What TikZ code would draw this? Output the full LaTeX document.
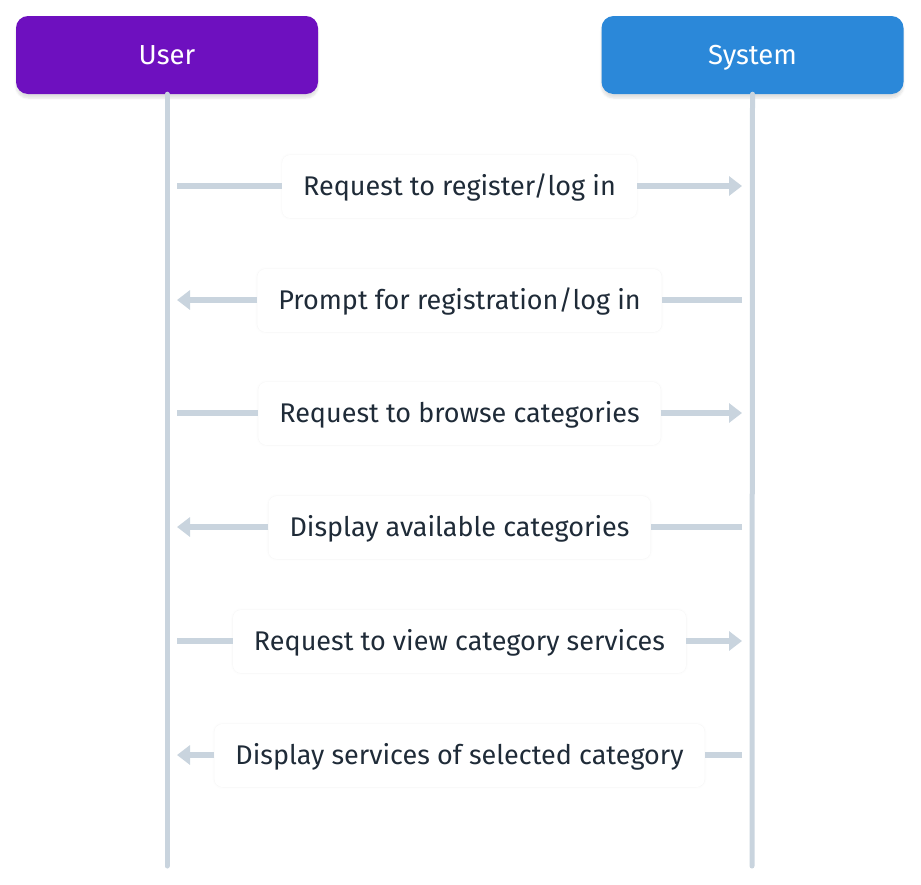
\documentclass[tikz,border=0pt]{standalone}
\usepackage{fontspec}
\setmainfont{Fira Sans}
\usepackage{xcolor}
\usetikzlibrary{arrows.meta,shadows.blur}

\definecolor{userpurple}{HTML}{6E10BF}
\definecolor{sysblue}{HTML}{2B88D9}
\definecolor{lifegray}{HTML}{C9D4DE}
\definecolor{msgtext}{HTML}{1F2B38}

\tikzset{
	actor/.style={rounded corners=12pt, minimum width=302pt, minimum height=78pt,
		text=white, font=\fontsize{27.5}{31}\selectfont, text height=19pt, text depth=0pt,
		blur shadow={shadow xshift=0pt, shadow yshift=-4pt, shadow blur steps=6, shadow opacity=12}},
	msg/.style={fill=white, rounded corners=8pt, minimum height=63pt, inner xsep=21pt,
		text=msgtext, font=\fontsize{27}{31}\selectfont, text height=18.6pt, text depth=0pt,
		blur shadow={shadow xshift=0pt, shadow yshift=0pt, shadow blur steps=6, shadow opacity=6}},
	lifeline/.style={draw=lifegray, line width=5pt, line cap=round},
	call/.style={draw=lifegray, line width=6pt, -{Triangle[length=13pt,width=19pt]}},
}

\begin{document}
\begin{tikzpicture}[x=1pt, y=-1pt]
		\useasboundingbox (0,0) rectangle (921,884);

		\node (user) [actor, fill=userpurple] at (167,  55) {User};
		\node (sys)  [actor, fill=sysblue]    at (752.5,55) {System};

		\coordinate (uend) at (167, 866);
		\coordinate (send) at (752, 866);

		% points on the lifelines
		\coordinate (u1) at (177, 186);
		\coordinate (s1) at (742, 186);
		\coordinate (u2) at (177, 300);
		\coordinate (s2) at (742, 300);
		\coordinate (u3) at (177, 413);
		\coordinate (s3) at (742, 413);
		\coordinate (u4) at (177, 527);
		\coordinate (s4) at (742, 527);
		\coordinate (u5) at (177, 641);
		\coordinate (s5) at (742, 641);
		\coordinate (u6) at (177, 755);
		\coordinate (s6) at (742, 755);

		\draw [lifeline] (user.south) -- (uend);
		\draw [lifeline] (sys.south |- user.south) -- (send);

		\node (m1) [msg] at (459.5, 186.5) {Request to register/log in};
		\node (m2) [msg] at (459.5, 300.5) {Prompt for registration/log in};
		\node (m3) [msg] at (459.5, 413.5) {Request to browse categories};
		\node (m4) [msg] at (459.5, 527.5) {Display available categories};
		\node (m5) [msg] at (459.5, 641.5) {Request to view category services};
		\node (m6) [msg] at (459.5, 755.5) {Display services of selected category};

		% user -> system
		\draw [lifeline, line width=6pt, line cap=butt] (u1) -- (u1 -| m1.west);
		\draw [call] (s1 -| m1.east) -- (s1);

		% system -> user
		\draw [lifeline, line width=6pt, line cap=butt] (s2) -- (s2 -| m2.east);
		\draw [call] (u2 -| m2.west) -- (u2);

		\draw [lifeline, line width=6pt, line cap=butt] (u3) -- (u3 -| m3.west);
		\draw [call] (s3 -| m3.east) -- (s3);

		\draw [lifeline, line width=6pt, line cap=butt] (s4) -- (s4 -| m4.east);
		\draw [call] (u4 -| m4.west) -- (u4);

		\draw [lifeline, line width=6pt, line cap=butt] (u5) -- (u5 -| m5.west);
		\draw [call] (s5 -| m5.east) -- (s5);

		\draw [lifeline, line width=6pt, line cap=butt] (s6) -- (s6 -| m6.east);
		\draw [call] (u6 -| m6.west) -- (u6);
	\end{tikzpicture}
\end{document}
